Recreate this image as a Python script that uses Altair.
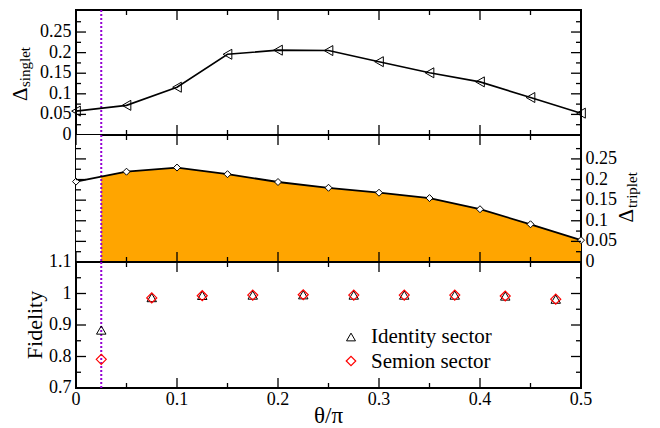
import altair as alt
import pandas as pd

# ---------------- data ----------------
theta = [0, 0.05, 0.1, 0.15, 0.2, 0.25, 0.3, 0.35, 0.4, 0.45, 0.5]
singlet = [0.058, 0.072, 0.116, 0.196, 0.206, 0.205, 0.178, 0.151, 0.129, 0.091, 0.053]
triplet = [0.195, 0.219, 0.229, 0.213, 0.194, 0.180, 0.168, 0.155, 0.128, 0.0915, 0.053]
theta_fid = [0.025, 0.075, 0.125, 0.175, 0.225, 0.275, 0.325, 0.375, 0.425, 0.475]
fid_identity = [0.884, 0.987, 0.994, 0.995, 0.996, 0.995, 0.995, 0.995, 0.992, 0.982]
fid_semion = [0.791, 0.986, 0.993, 0.995, 0.996, 0.995, 0.995, 0.995, 0.992, 0.982]
cutoff = [0.025]

x_major = [0, 0.1, 0.2, 0.3, 0.4, 0.5]
x_minor = [0.05, 0.15, 0.25, 0.35, 0.45]
x_labels = [0, 0.1, 0.2, 0.3, 0.4, 0.5]
gap_major = [0.05, 0.1, 0.15, 0.2, 0.25]
gap_minor = [0.025, 0.075, 0.125, 0.175, 0.225, 0.275]
gap_labels = [0, 0.05, 0.1, 0.15, 0.2, 0.25]
fid_major = [0.8, 0.9, 1.0]
fid_minor = [0.75, 0.85, 0.95, 1.05]
fid_labels = [0.7, 0.8, 0.9, 1, 1.1]

# ---------------- layout ----------------
W = 505
H_TOP, H_MID, H_BOT = 125, 127, 126
FONT = "Liberation Serif"
LAB = 18
MAJ, MIN = 10, 5
TICKW = 1.3

xscale = alt.Scale(domain=[0, 0.5], nice=False, zero=False)
y_top = alt.Scale(domain=[0, 0.3035], nice=False, zero=False)
y_mid = alt.Scale(domain=[0, 0.308], nice=False, zero=False)
y_bot = alt.Scale(domain=[0.7, 1.1], nice=False, zero=False)

df_main = pd.DataFrame({"theta": theta, "singlet": singlet, "triplet": triplet})
df_fid = pd.DataFrame({"theta": theta_fid, "identity": fid_identity, "semion": fid_semion})
df_cut = pd.DataFrame({"x": cutoff})


def fmt(values):
    return pd.DataFrame({"v": values, "t": [f"{v:g}" for v in values]})


def tick_layers(H, yscale, ymaj, ymin):
    layers = []
    for xs, L in ((x_major, MAJ), (x_minor, MIN)):
        base = alt.Chart(pd.DataFrame({"x": xs}))
        X = alt.X("x:Q", scale=xscale, axis=None)
        layers.append(base.mark_rule(color="black", strokeWidth=TICKW).encode(
            x=X, y=alt.value(0), y2=alt.value(L)))
        layers.append(base.mark_rule(color="black", strokeWidth=TICKW).encode(
            x=X, y=alt.value(H - L), y2=alt.value(H)))
    for ys, L in ((ymaj, MAJ), (ymin, MIN)):
        base = alt.Chart(pd.DataFrame({"y": ys}))
        Y = alt.Y("y:Q", scale=yscale, axis=None)
        layers.append(base.mark_rule(color="black", strokeWidth=TICKW).encode(
            y=Y, x=alt.value(0), x2=alt.value(L)))
        layers.append(base.mark_rule(color="black", strokeWidth=TICKW).encode(
            y=Y, x=alt.value(W - L), x2=alt.value(W)))
    return layers


def ylabels(values, yscale, side):
    if side == "left":
        return alt.Chart(fmt(values)).mark_text(
            font=FONT, fontSize=LAB, align="right", baseline="middle", color="black").encode(
            y=alt.Y("v:Q", scale=yscale, axis=None), x=alt.value(-4.5), text="t:N")
    return alt.Chart(fmt(values)).mark_text(
        font=FONT, fontSize=LAB, align="left", baseline="middle", color="black").encode(
        y=alt.Y("v:Q", scale=yscale, axis=None), x=alt.value(W + 4.5), text="t:N")


def vline(H):
    return alt.Chart(df_cut).mark_rule(
        color="#9400D3", strokeWidth=2, strokeDash=[2, 2]).encode(
        x=alt.X("x:Q", scale=xscale, axis=None), y=alt.value(0), y2=alt.value(H))


def label(text, x, y, size, angle=0, align="left", baseline="alphabetic", color="black"):
    return alt.Chart(pd.DataFrame({"t": [text]})).mark_text(
        font=FONT, fontSize=size, angle=angle, align=align, baseline=baseline,
        color=color).encode(text="t:N", x=alt.value(x), y=alt.value(y))


# ---------------- top panel ----------------
top_line = alt.Chart(df_main).mark_line(color="black", strokeWidth=1.6).encode(
    x=alt.X("theta:Q", scale=xscale, axis=None),
    y=alt.Y("singlet:Q", scale=y_top, axis=None))
top_pts = alt.Chart(df_main).mark_point(
    shape="triangle-left", size=100, filled=False, color="black", strokeWidth=1, opacity=1).encode(
    x=alt.X("theta:Q", scale=xscale, axis=None),
    y=alt.Y("singlet:Q", scale=y_top, axis=None))
top = alt.layer(
    vline(H_TOP), top_line, top_pts,
    *tick_layers(H_TOP, y_top, gap_major, gap_minor),
    ylabels(gap_labels, y_top, "left"),
    label("Δ", -49.5, 91, 21, angle=270),
    label("singlet", -46, 77, 15, angle=270),
).properties(width=W, height=H_TOP)

# ---------------- middle panel ----------------
mid_area = alt.Chart(df_main).mark_area(color="#FFA500", opacity=1).encode(
    x=alt.X("theta:Q", scale=xscale, axis=None),
    y=alt.Y("triplet:Q", scale=y_mid, axis=None))
mid_mask = alt.Chart(pd.DataFrame({"x0": [theta[0]], "x1": cutoff})).mark_rect(color="white").encode(
    x=alt.X("x0:Q", scale=xscale, axis=None), x2="x1:Q",
    y=alt.value(0), y2=alt.value(H_MID))
mid_line = alt.Chart(df_main).mark_line(color="black", strokeWidth=1.8).encode(
    x=alt.X("theta:Q", scale=xscale, axis=None),
    y=alt.Y("triplet:Q", scale=y_mid, axis=None))
mid_pts = alt.Chart(df_main).mark_point(
    shape="diamond", size=49, filled=True, fill="white", stroke="black", strokeWidth=1,
    opacity=1, fillOpacity=1).encode(
    x=alt.X("theta:Q", scale=xscale, axis=None),
    y=alt.Y("triplet:Q", scale=y_mid, axis=None))
mid = alt.layer(
    mid_area, mid_mask, vline(H_MID), mid_line, mid_pts,
    *tick_layers(H_MID, y_mid, gap_major, gap_minor),
    ylabels(gap_labels, y_mid, "right"),
    label("Δ", 557.3, 87.4, 21, angle=270),
    label("triplet", 560.8, 73, 15, angle=270),
).properties(width=W, height=H_MID)

# ---------------- bottom panel ----------------
bot_id = alt.Chart(df_fid).mark_point(
    shape="triangle-up", size=90, filled=False, color="black", strokeWidth=1, opacity=1).encode(
    x=alt.X("theta:Q", scale=xscale, axis=None),
    y=alt.Y("identity:Q", scale=y_bot, axis=None))
bot_sem = alt.Chart(df_fid).mark_point(
    shape="diamond", size=100, filled=False, color="red", strokeWidth=1.2, opacity=1).encode(
    x=alt.X("theta:Q", scale=xscale, axis=None),
    y=alt.Y("semion:Q", scale=y_bot, axis=None))
xlab = alt.Chart(fmt(x_labels)).mark_text(
    font=FONT, fontSize=LAB, align="center", baseline="top", color="black").encode(
    x=alt.X("v:Q", scale=xscale, axis=None), y=alt.value(H_BOT + 3), text="t:N")
leg_id = alt.Chart(pd.DataFrame({"t": ["Identity sector"]})).mark_point(
    shape="triangle-up", size=80, filled=False, color="black", strokeWidth=1, opacity=1).encode(
    x=alt.value(275), y=alt.value(75))
leg_sem = alt.Chart(pd.DataFrame({"t": ["Semion sector"]})).mark_point(
    shape="diamond", size=90, filled=False, color="red", strokeWidth=1.2, opacity=1).encode(
    x=alt.value(275), y=alt.value(99))
bot = alt.layer(
    vline(H_BOT), bot_id, bot_sem,
    *tick_layers(H_BOT, y_bot, fid_major, fid_minor),
    ylabels(fid_labels, y_bot, "left"), xlab,
    leg_id, leg_sem,
    label("Identity sector", 295, 81, 21),
    label("Semion sector", 295, 105.7, 21),
    label("Fidelity", -41, 63, 22, angle=270, align="center", baseline="middle"),
    label("θ/π", W / 2, 161, 23, align="center"),
).properties(width=W, height=H_BOT)

chart = alt.vconcat(top, mid, bot, spacing=0).properties(
    bounds="flush",
    padding={"left": 0, "top": 0, "right": 0, "bottom": 0},
    background="white",
).configure_view(stroke="black", strokeWidth=2)

chart.save("out.html", embed_options={"renderer": "svg", "actions": False})
